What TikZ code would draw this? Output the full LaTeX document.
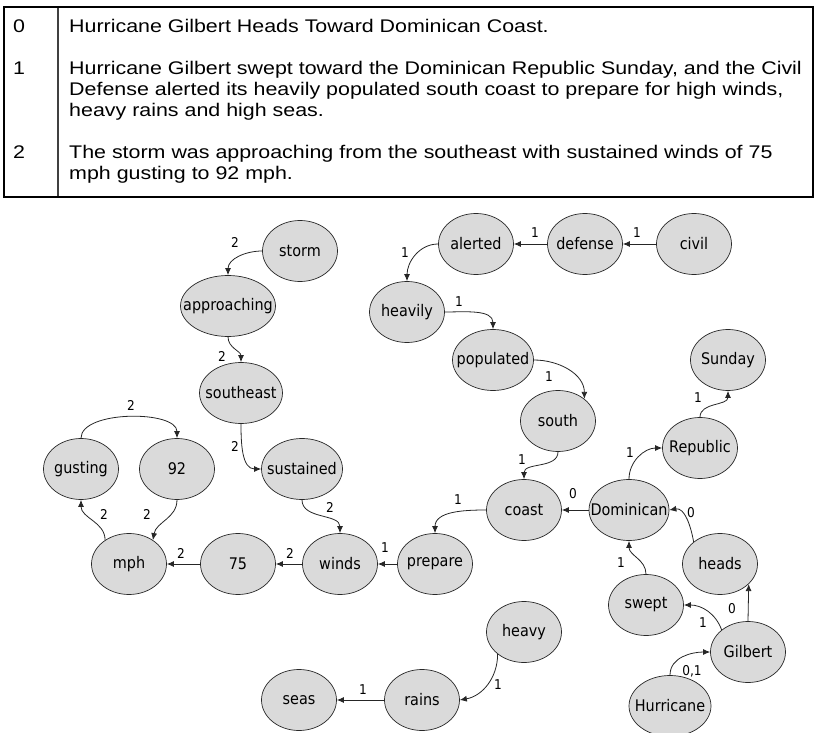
\documentclass[tikz,border=0pt]{standalone}
\usepackage{fontspec}
\setmainfont{Liberation Sans}
\newfontfamily\tabfont[FakeStretch=1.17]{Liberation Sans}
\newfontfamily\wordfont[FakeStretch=0.9]{DejaVu Sans}
\usetikzlibrary{shapes.geometric,arrows.meta}
\newcommand{\nodeword}[1]{\makebox[0pt]{#1}}
\definecolor{nodefill}{RGB}{218,218,218}
\definecolor{nodeline}{RGB}{40,40,40}
\begin{document}
\begin{tikzpicture}[x=1pt,y=1pt,
  cell/.style={anchor=base west, inner sep=0pt, font=\tabfont\fontsize{18.3}{21}\selectfont},
  word/.style={ellipse, draw=nodeline, line width=0.7pt, fill=nodefill,
    minimum width=75pt, minimum height=61pt, inner sep=0pt,
    font=\wordfont\fontsize{16}{19}\selectfont},
  link/.style={draw=black!85, line width=0.8pt, -{Latex[length=7pt,width=6pt]}},
  num/.style={font=\wordfont\fontsize{13.5}{15}\selectfont, inner sep=0pt}
]
\useasboundingbox (0,0) rectangle (815,-733);

% sentence table
\draw[line width=1.2pt, draw=black!75] (58,-7) -- (58,-197);
\draw[line width=2.6pt] (4,-7) rectangle (813,-197);
\node[cell] (n0) at (13,-33) {0};
\node[cell] (t0) at (69,-33) {Hurricane Gilbert Heads Toward Dominican Coast.};
\node[cell] (n1) at (13,-75) {1};
\node[cell] (t1a) at (69,-75) {Hurricane Gilbert swept toward the Dominican Republic Sunday, and the Civil};
\node[cell] (t1b) at (69,-96) {Defense alerted its heavily populated south coast to prepare for high winds,};
\node[cell] (t1c) at (69,-117) {heavy rains and high seas.};
\node[cell] (n2) at (13,-159) {2};
\node[cell] (t2a) at (69,-159) {The storm was approaching from the southeast with sustained winds of 75};
\node[cell] (t2b) at (69,-180) {mph gusting to 92 mph.};

% word nodes
\node[word] (storm) at (300,-251) {\nodeword{storm}};
\node[word, minimum width=95pt] (approaching) at (228,-306) {\nodeword{approaching}};
\node[word, minimum width=83pt] (southeast) at (241,-393) {\nodeword{southeast}};
\node[word, minimum width=81pt] (sustained) at (302,-469) {\nodeword{sustained}};
\node[word] (gusting) at (81,-469) {\nodeword{gusting}};
\node[word] (n92) at (177,-469) {\nodeword{92}};
\node[word] (mph) at (129,-564) {\nodeword{mph}};
\node[word] (n75) at (238,-564) {\nodeword{75}};
\node[word] (winds) at (340,-564) {\nodeword{winds}};
\node[word] (prepare) at (435,-564) {\nodeword{prepare}};
\node[word] (coast) at (524,-510) {\nodeword{coast}};
\node[word, minimum width=80pt] (dominican) at (629,-510) {\nodeword{Dominican}};
\node[word] (republic) at (700,-448) {\nodeword{Republic}};
\node[word] (sunday) at (728,-360) {\nodeword{Sunday}};
\node[word] (south) at (558,-421) {\nodeword{south}};
\node[word, minimum width=81pt] (populated) at (493,-360) {\nodeword{populated}};
\node[word] (heavily) at (407,-312) {\nodeword{heavily}};
\node[word] (alerted) at (476,-244) {\nodeword{alerted}};
\node[word] (defense) at (585,-244) {\nodeword{defense}};
\node[word] (civil) at (694,-244) {\nodeword{civil}};
\node[word] (heads) at (720,-564) {\nodeword{heads}};
\node[word] (swept) at (646,-605) {\nodeword{swept}};
\node[word] (gilbert) at (748,-652) {\nodeword{Gilbert}};
\node[word, minimum width=82pt] (hurricane) at (670,-706) {\nodeword{Hurricane}};
\node[word] (heavy) at (524,-632) {\nodeword{heavy}};
\node[word] (rains) at (422,-700) {\nodeword{rains}};
\node[word] (seas) at (299,-700) {\nodeword{seas}};

% links between words
\draw[link] (storm.west) to[out=180,in=90] (approaching.north) node[num] at (235,-242) {2};
\draw[link] (approaching.south) to[out=-90,in=90] (southeast.north) node[num] at (222,-356) {2};
\draw[link] (southeast.south) to[out=-90,in=180] (sustained.west) node[num] at (235,-446) {2};
\draw[link] (sustained.south) to[out=-90,in=90] (winds.north) node[num] at (330,-507) {2};
\draw[link] (gusting.north) to[out=90,in=90,looseness=0.75] (n92.north) node[num] at (131,-405) {2};
\draw[link] (mph.135) to[out=90,in=-90] (gusting.south) node[num] at (104,-514) {2};
\draw[link] (n92.south) to[out=-90,in=80] (mph.45) node[num] at (147,-514) {2};
\draw[link] (n75.west) -- (mph.east) node[num] at (181,-553) {2};
\draw[link] (winds.west) -- (n75.east) node[num] at (290,-553) {2};
\draw[link] (prepare.west) -- (winds.east) node[num] at (385,-548) {1};
\draw[link] (coast.west) to[out=180,in=90] (prepare.north) node[num] at (458,-500) {1};
\draw[link] (dominican.west) -- (coast.east) node[num] at (573,-494) {0};
\draw[link] (south.south) to[out=-90,in=90] (coast.north) node[num] at (522,-460) {1};
\draw[link] (dominican.north) to[out=90,in=180] (republic.west) node[num] at (630,-453) {1};
\draw[link] (republic.north) to[out=90,in=-90] (sunday.south) node[num] at (698,-398) {1};
\draw[link] (heads.140) to[out=100,in=10] (dominican.east) node[num] at (691,-513) {0};
\draw[link] (swept.north) to[out=90,in=-90] (dominican.south) node[num] at (621,-563) {1};
\draw[link] (gilbert.140) to[out=110,in=0] (swept.east) node[num] at (703,-623) {1};
\draw[link] (gilbert.north) -- (heads.-35.5) node[num] at (732,-609) {0};
\draw[link] (hurricane.north) to[out=90,in=180] (gilbert.west) node[num] at (692,-671) {0,1};
\draw[link] (heavy.-140) to[out=-90,in=10] (rains.east) node[num] at (498,-685) {1};
\draw[link] (rains.west) -- (seas.east) node[num] at (363,-690) {1};
\draw[link] (civil.west) -- (defense.east) node[num] at (637,-233) {1};
\draw[link] (defense.west) -- (alerted.east) node[num] at (535,-233) {1};
\draw[link] (alerted.west) to[out=180,in=90] (heavily.north) node[num] at (405,-253) {1};
\draw[link] (heavily.east) to[out=0,in=90] (populated.north) node[num] at (459,-302) {1};
\draw[link] (populated.east) to[out=0,in=90] (south.40) node[num] at (549,-377) {1};
\end{tikzpicture}
\end{document}
